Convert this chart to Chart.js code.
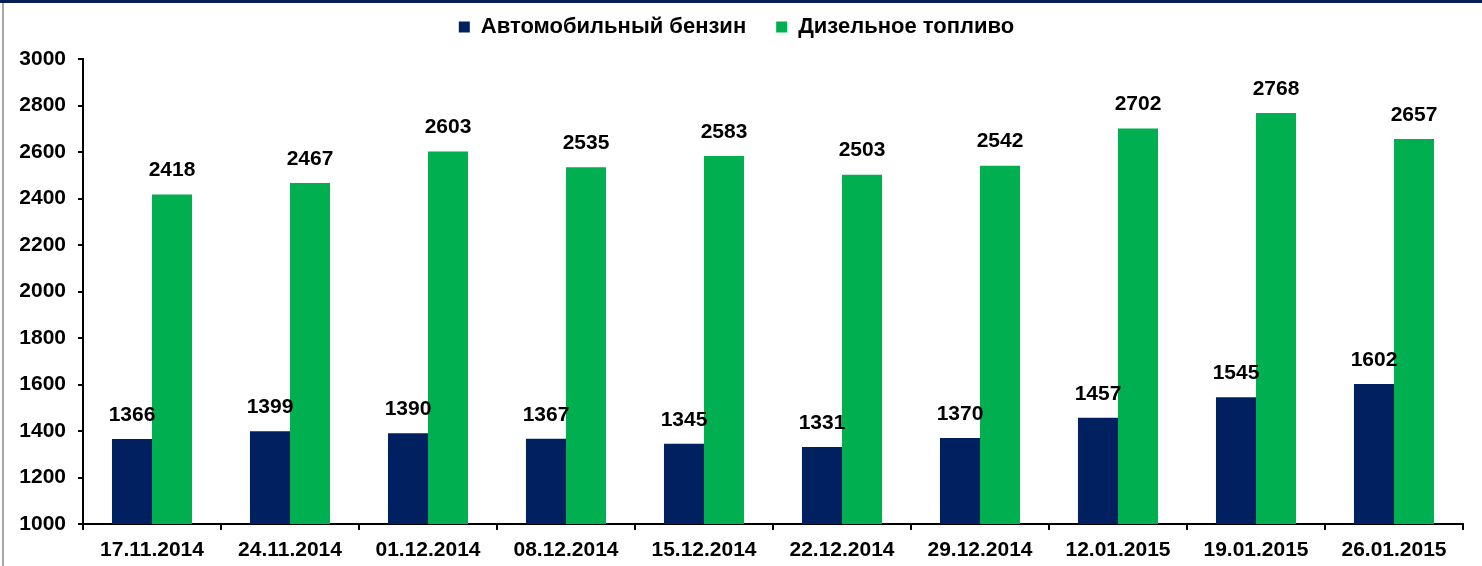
<!DOCTYPE html>
<html>
<head>
<meta charset="utf-8">
<script src="https://cdn.jsdelivr.net/npm/chart.js@4.4.1/dist/chart.umd.min.js"></script>
<style>
  html, body { margin: 0; padding: 0; background: #fff; }
  #wrap { width: 1482px; height: 566px; position: relative; }
</style>
</head>
<body>
<div id="wrap"><canvas id="fuel-chart" width="1482" height="566"></canvas></div>
<script>
// даты замеров
const dates = ['17.11.2014', '24.11.2014', '01.12.2014', '08.12.2014', '15.12.2014',
               '22.12.2014', '29.12.2014', '12.01.2015', '19.01.2015', '26.01.2015'];
// бензин
const petrol = [1366, 1399, 1390, 1367, 1345, 1331, 1370, 1457, 1545, 1602];
// дизель
const diesel = [2418, 2467, 2603, 2535, 2583, 2503, 2542, 2702, 2768, 2657];
const yTicks = [1000, 1200, 1400, 1600, 1800, 2000, 2200, 2400, 2600, 2800, 3000];

const FONT = "'Liberation Sans', Arial, sans-serif";

// фон и рамка
const framePlugin = {
    id: 'frame',
    beforeDraw(chart) {
        const c = chart.ctx;
        c.save();
        c.fillStyle = '#fff';
        c.fillRect(0, 0, chart.width, chart.height);
        c.fillStyle = '#0b1f57';
        c.fillRect(0, 0, chart.width, 3);
        c.fillStyle = '#a8a8a8';
        c.fillRect(2, 3, 2, chart.height - 3);
        c.restore();
    }
};

// подписи значений над столбиками
const valueLabels = {
    id: 'valueLabels',
    afterDatasetsDraw(chart) {
        const c = chart.ctx;
        c.save();
        c.font = 'bold 21px ' + FONT;
        c.fillStyle = '#000';
        c.textAlign = 'center';
        c.textBaseline = 'middle';
        chart.data.datasets.forEach((ds, i) => {
            chart.getDatasetMeta(i).data.forEach((bar, j) => {
                c.fillText(String(ds.data[j]), bar.x, bar.y - 24);
            });
        });
        c.restore();
    }
};

new Chart(document.getElementById('fuel-chart'), {
    type: 'bar',
    data: {
        labels: dates,
        datasets: [
            { label: 'Автомобильный бензин', data: petrol, backgroundColor: '#002060' },
            { label: 'Дизельное топливо', data: diesel, backgroundColor: '#00B050' }
        ]
    },
    options: {
        responsive: false,
        animation: false,
        layout: { padding: { top: -14, left: 10, right: 19, bottom: 0 } },
        datasets: { bar: { categoryPercentage: 0.58, barPercentage: 1.0 } },
        scales: {
            x: {
                afterFit(axis) { axis.height = 42; },
                grid: { display: true, offset: true, drawOnChartArea: false, tickLength: 6, color: '#000', lineWidth: 2 },
                border: { display: true, color: '#000', width: 2 },
                ticks: { color: '#000', font: { family: FONT, size: 21, weight: 'bold' }, padding: 8, maxRotation: 0, autoSkip: false }
            },
            y: {
                min: 1000,
                max: 3000,
                afterBuildTicks(axis) { axis.ticks = yTicks.map(v => ({ value: v })); },
                afterFit(axis) { axis.width = 73; },
                grid: { display: true, drawOnChartArea: false, tickLength: 5, color: '#000', lineWidth: 2 },
                border: { display: true, color: '#000', width: 2 },
                ticks: {
                    color: '#000',
                    font: { family: FONT, size: 21, weight: 'bold' },
                    padding: 12,
                    callback: v => String(v)
                }
            }
        },
        plugins: {
            legend: {
                position: 'top',
                weight: 3000,
                labels: {
                    color: '#000',
                    font: { family: FONT, size: 22, weight: 'bold' },
                    boxWidth: 11,
                    boxHeight: 11,
                    padding: 30
                }
            },
            // пустой заголовок как отступ под легендой
            title: {
                display: true,
                text: '',
                font: { size: 1 },
                padding: { top: 0, bottom: 10 }
            },
            tooltip: { enabled: false }
        }
    },
    plugins: [framePlugin, valueLabels]
});
</script>
</body>
</html>
